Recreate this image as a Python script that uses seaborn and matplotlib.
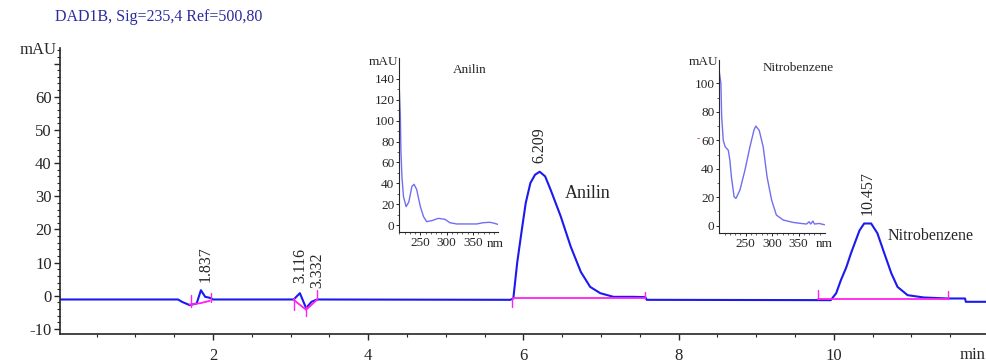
import matplotlib
matplotlib.use('Agg')
import matplotlib.pyplot as plt
import seaborn as sns

# chromatogram trace (time in min, signal in mAU)
time = [0.03, 1.55, 1.60, 1.70, 1.79, 1.845, 1.90, 1.96, 2.00, 2.02,
        3.04, 3.12, 3.20, 3.27, 3.34, 3.36,
        5.83, 5.87, 5.92, 5.98, 6.03, 6.09, 6.15, 6.21, 6.28, 6.35, 6.48, 6.61,
        6.74, 6.86, 6.99, 7.16, 7.42, 7.57, 7.59,
        9.96, 10.03, 10.09, 10.16, 10.22, 10.33, 10.39, 10.48, 10.56, 10.65,
        10.74, 10.82, 10.95, 11.16, 11.47, 11.69, 11.70, 11.96]
signal = [-1.1, -1.1, -1.8, -2.8, -2.3, 1.7, -0.3, -0.6, -1.1, -1.1,
          -1.1, 0.8, -3.7, -1.8, -1.1, -1.1,
          -1.2, -0.8, 10.0, 20.0, 28.0, 34.0, 36.5, 37.4, 36.0, 32.0, 24.0, 14.8,
          7.2, 2.7, 0.8, -0.3, -0.3, -0.4, -1.2,
          -1.3, 0.8, 4.7, 8.6, 12.8, 19.7, 21.8, 21.8, 18.9, 12.8,
          6.8, 2.7, 0.2, -0.5, -0.8, -0.8, -1.8, -1.8]

# integration baselines (magenta)
base_segments = [
    ([1.70, 1.84, 1.96], [-2.6, -2.2, -1.5]),
    ([3.04, 3.20, 3.34], [-1.2, -4.2, -1.2]),
    ([5.86, 7.57], [-0.6, -0.6]),
    ([9.79, 11.47], [-1.0, -1.0]),
]
base_ticks = [(1.72, -3.3, 0.2), (1.97, -1.8, 1.0), (3.04, -4.2, -0.6),
              (3.20, -6.0, -3.0), (3.34, -1.2, 1.8), (5.85, -3.3, -0.6),
              (7.57, -0.6, 1.3), (9.79, -1.0, 1.7), (11.47, -1.0, 1.5)]

# peak labels
peak_rt = ['1.837', '3.116', '3.332', '6.209', '10.457']
peak_x = [1.90, 3.12, 3.35, 6.21, 10.43]
peak_y = [4.2, 3.9, 2.4, 40.0, 24.4]

# UV spectra of the two peaks
anilin_nm = [209, 212, 213, 215, 218, 223, 228, 234, 238, 243, 250, 256, 262,
             272, 284, 297, 306, 319, 338, 357, 369, 382, 391, 397]
anilin_mau = [144, 104, 72, 46, 27, 17.6, 22, 37, 39, 34, 17.6, 8, 3.2,
              4.2, 6.4, 5.4, 2.2, 1.0, 1.0, 1.0, 2.2, 2.6, 1.6, 0.6]
nitro_nm = [200, 203, 204.5, 207.5, 211, 217, 220, 223, 228, 231.5, 239, 248.5,
            258, 265.5, 269, 275.5, 283, 290.5, 299, 308, 321, 340, 355, 365,
            370, 373, 377, 380, 389, 399]
nitro_mau = [108, 100, 76.6, 60, 55.5, 53, 46, 34, 20.4, 19.2, 25, 39,
             55.5, 67, 70, 67, 55.5, 34, 18, 7.5, 4, 2.3, 1.6, 1.2,
             2.8, 1.2, 3.3, 1.2, 1.6, 0.7]

sns.set_style('ticks')
plt.rcParams['font.family'] = ['Liberation Serif', 'DejaVu Serif']

fig = plt.figure(figsize=(9.86, 3.63), dpi=100)
ax = fig.add_axes([0.0609, 0.0799, 0.9391, 0.788])

sns.lineplot(x=time, y=signal, sort=False, estimator=None, color='#1a1aee', lw=1.5, ax=ax)
for xs, ys in base_segments:
    sns.lineplot(x=xs, y=ys, sort=False, estimator=None, color='#ff22ee', lw=1.3, ax=ax)
for tx, y0, y1 in base_ticks:
    ax.plot([tx, tx], [y0, y1], color='#ff22ee', lw=1.0)

for lab, px, py in zip(peak_rt, peak_x, peak_y):
    ax.text(px, py, lab, rotation=90, ha='center', va='bottom', fontsize=11.5)
ax.text(6.54, 30.9, 'Anilin', ha='left', va='center', fontsize=13)
ax.text(10.69, 18.0, 'Nitrobenzene', ha='left', va='center', fontsize=11.5)

ax.set_xlim(0.03, 11.96)
ax.set_ylim(-11.5, 74.7)
ax.set_xticks([2, 4, 6, 8, 10])
ax.set_xticks([x * 0.5 for x in range(1, 24)], minor=True)
ax.set_yticks(range(-10, 80, 10))
ax.set_yticklabels([str(v) for v in range(-10, 70, 10)] + [''])
ax.set_yticks(range(-10, 75, 2), minor=True)
ax.tick_params(axis='both', which='major', labelsize=12, length=4, width=1, direction='out', pad=2)
ax.tick_params(axis='both', which='minor', length=2, width=0.8, direction='out')
ax.tick_params(axis='x', which='major', pad=6)
for s in ['top', 'right']:
    ax.spines[s].set_visible(False)
for s in ['left', 'bottom']:
    ax.spines[s].set_linewidth(1.2)
ax.set_xlabel('')
ax.set_ylabel('')

fig.text(55 / 986, 1 - 17 / 363, 'DAD1B, Sig=235,4 Ref=500,80', color='#2b2ba0',
         fontsize=11.5, ha='left', va='center')
fig.text(57 / 986, 1 - 50 / 363, 'mAU', fontsize=12, ha='right', va='center')
fig.text(985 / 986, 1 - 355 / 363, 'min', fontsize=12, ha='right', va='center')


def inset(rect, nm, mau, xlim, ylim, yticks, title, title_xy, mau_xy, nm_xy):
    ia = fig.add_axes(rect)
    sns.lineplot(x=nm, y=mau, sort=False, estimator=None, color='#6f6ff0', lw=1.0, ax=ia)
    ia.set_xlim(*xlim)
    ia.set_ylim(*ylim)
    ia.set_xticks([250, 300, 350])
    ia.set_xticks(range(210, 400, 10), minor=True)
    ia.set_yticks(yticks)
    ia.set_yticks(range(0, yticks[-1] + 1, 10), minor=True)
    ia.tick_params(which='major', labelsize=9.5, length=2.5, width=0.7, pad=1)
    ia.tick_params(which='minor', length=1.5, width=0.5)
    for s in ['top', 'right']:
        ia.spines[s].set_visible(False)
    for s in ['left', 'bottom']:
        ia.spines[s].set_linewidth(0.8)
    ia.patch.set_alpha(0)
    ia.set_xlabel('')
    ia.set_ylabel('')
    fig.text(title_xy[0] / 986, 1 - title_xy[1] / 363, title, fontsize=9.5, ha='center', va='center')
    fig.text(mau_xy[0] / 986, 1 - mau_xy[1] / 363, 'mAU', fontsize=9.5, ha='right', va='center')
    fig.text(nm_xy[0] / 986, 1 - nm_xy[1] / 363, 'nm', fontsize=9.5, ha='center', va='center')
    return ia


inset([399.3 / 986, 1 - 232 / 363, 99 / 986, 174 / 363], anilin_nm, anilin_mau,
      (210, 398), (-6.7, 160), list(range(0, 141, 20)), 'Anilin',
      (470, 70), (398, 62), (495, 244))
inset([719.3 / 986, 1 - 233 / 363, 105.7 / 986, 173 / 363], nitro_nm, nitro_mau,
      (200, 400), (-5.1, 116.4), list(range(0, 101, 20)), 'Nitrobenzene',
      (798, 68), (718, 62), (824, 244))
fig.text(698 / 986, 1 - 139 / 363, '-', color='#e03030', fontsize=7, ha='center', va='center')

plt.savefig('out.png', dpi=100)
